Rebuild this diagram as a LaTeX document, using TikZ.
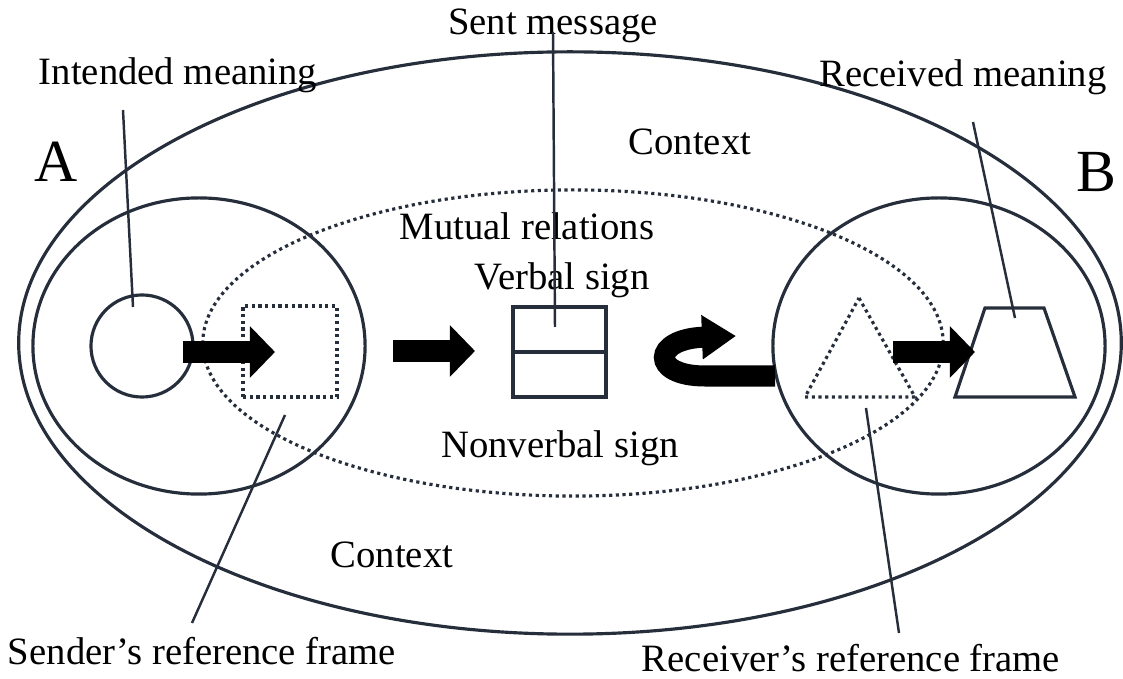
\documentclass[tikz,border=0pt]{standalone}
\usepackage{fontspec}
\setmainfont{Liberation Serif}
\usetikzlibrary{arrows.meta}
\usetikzlibrary{positioning}
\usetikzlibrary{shapes.geometric}
\definecolor{ink}{RGB}{38,46,60}
\tikzset{ring/.style={draw=ink,
                      line width=0.9pt,
                      ellipse,
                      inner sep=0pt}}
\tikzset{dotted ring/.style={ring,densely dotted}}
\tikzset{leader/.style={draw=ink,line width=0.7pt}}
\tikzset{fat arrow/.style={draw=black,
                           line width=0.22cm,
                           -{Triangle[length=0.25cm,width=0.5cm]}}}
\tikzset{tag/.style={anchor=base,inner sep=0pt,text=black,
                     font=\fontsize{11}{13}\selectfont}}
\tikzset{big tag/.style={tag,font=\fontsize{17}{20}\selectfont}}

\begin{document}
\begin{tikzpicture}
      [
      x=0.01cm,y=-0.01cm,
      ]
      \useasboundingbox (0,0) rectangle (1123,679);

      % frames
      \node [ring,minimum width=11.02cm,minimum height=5.82cm] (context) at (570,343) {};
      \node [ring,minimum width=3.32cm,minimum height=2.96cm] (frameA) at (199,346) {};
      \node [ring,minimum width=3.32cm,minimum height=2.96cm] (frameB) at (939,346) {};
      \node [dotted ring,minimum width=7.40cm,minimum height=3.06cm] (mutual) at (573,343) {};

      % signs
      \node [draw=ink,line width=0.9pt,circle,minimum size=1.02cm,inner sep=0pt] (meaning) at (142,346) {};
      \node [draw=ink,line width=0.9pt,densely dotted,minimum width=0.94cm,minimum height=0.91cm,inner sep=0pt] (encoded) at (290,351.5) {};
      \node [draw=ink,line width=0.9pt,minimum width=0.93cm,minimum height=0.90cm,inner sep=0pt] (message) at (559.5,352) {};
      \draw [draw=ink,line width=0.9pt] (message.west) -- (message.east);

      \coordinate (T1) at (859,298);
      \coordinate (T2) at (915,397);
      \coordinate (T3) at (805,397);
      \draw [draw=ink,line width=0.9pt,densely dotted] (T1) -- (T2) -- (T3) -- cycle;

      \coordinate (Q1) at (985,308);
      \coordinate (Q2) at (1044,308);
      \coordinate (Q3) at (1075,397);
      \coordinate (Q4) at (955,397);
      \draw [draw=ink,line width=0.9pt] (Q1) -- (Q2) -- (Q3) -- (Q4) -- cycle;

      % black arrows
      \coordinate (a1s) at (183,352);
      \coordinate (a1e) at (275,352);
      \coordinate (a2s) at (393,351);
      \coordinate (a2e) at (475,351);
      \coordinate (a3s) at (893,352);
      \coordinate (a3e) at (975,352);
      \coordinate (a4s) at (775,376);
      \coordinate (a4m) at (705,376);
      \coordinate (a4e) at (736,336);
      \draw [fat arrow] (a1s) -- (a1e);
      \draw [fat arrow] (a2s) -- (a2e);
      \draw [fat arrow] (a3s) -- (a3e);
      \draw [fat arrow,line width=0.21cm,-{Triangle[length=0.34cm,width=0.42cm]}]
      (a4s) -- (a4m) .. controls (650,376) and (652,339) .. (a4e);

      % texts
      \node [big tag] (A) at (56,182) {A};
      \node [big tag] (B) at (1096,192) {B};
      \node [tag] (intended) at (178,85) {Intended meaning};
      \node [tag] (sent) at (553,35) {Sent message};
      \node [tag] (received) at (963,87) {Received meaning};
      \node [tag] (ctxtop) at (690,155) {Context};
      \node [tag] (mutualtext) at (527,240) {Mutual relations};
      \node [tag] (verbal) at (562,290) {Verbal sign};
      \node [tag] (nonverbal) at (560,458) {Nonverbal sign};
      \node [tag] (ctxbottom) at (392,568) {Context};
      \node [tag] (sender) at (202,665) {Sender's reference frame};
      \node [tag] (receiver) at (851,672) {Receiver's reference frame};

      % leaders
      \coordinate (L1a) at (123,110);
      \coordinate (L1b) at (133,307);
      \coordinate (L2a) at (553,32);
      \coordinate (L2b) at (555,327);
      \coordinate (L3a) at (973,122);
      \coordinate (L3b) at (1015,318);
      \coordinate (L4a) at (285,415);
      \coordinate (L4b) at (192,623);
      \coordinate (L5a) at (866,408);
      \coordinate (L5b) at (899,633);
      \foreach \i in {1,...,5}
      {
      \draw [leader] (L\i a) -- (L\i b);
      }

    \end{tikzpicture}
\end{document}
